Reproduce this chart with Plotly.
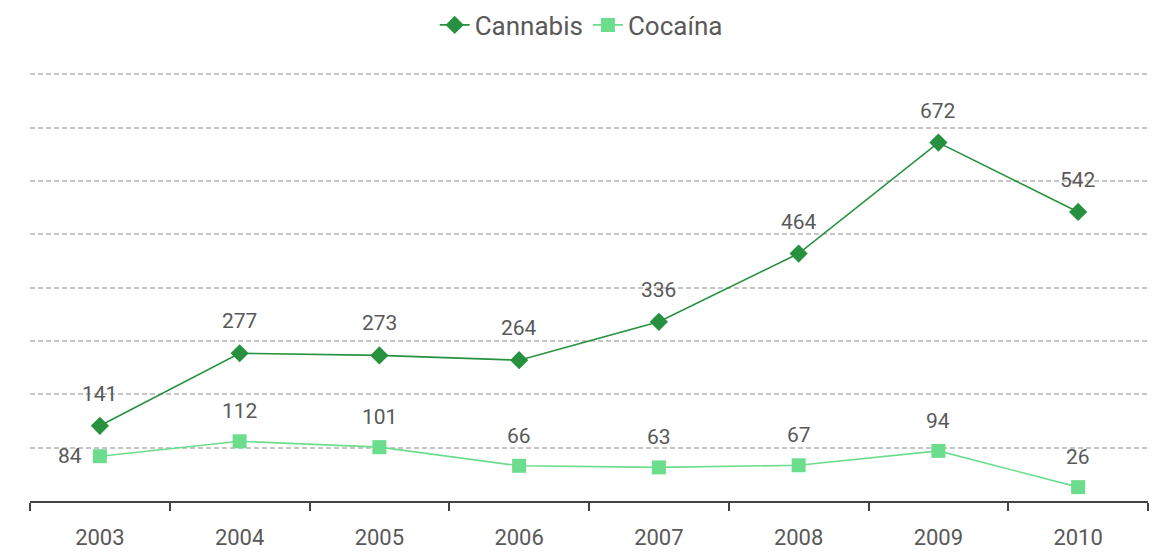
import plotly.graph_objects as go

years = ["2003", "2004", "2005", "2006", "2007", "2008", "2009", "2010"]
cannabis = [141, 277, 273, 264, 336, 464, 672, 542]
cocaina = [84, 112, 101, 66, 63, 67, 94, 26]

c_dark = "#27913f"
c_light = "#6cdc8d"
txt = "#595959"
font_family = "Roboto, 'DejaVu Sans', sans-serif"

fig = go.Figure()
fig.add_trace(go.Scatter(
    x=years, y=cannabis, name="Cannabis", mode="lines+markers",
    line=dict(color=c_dark, width=1.6),
    marker=dict(symbol="diamond", size=14, color=c_dark),
))
fig.add_trace(go.Scatter(
    x=years, y=cocaina, name="Cocaína", mode="lines+markers",
    line=dict(color=c_light, width=1.6),
    marker=dict(symbol="square", size=14, color=c_light),
))

annotations = []
lab_font = dict(size=21, color=txt, family=font_family)
for i, v in enumerate(cannabis):
    annotations.append(dict(x=i, y=v, text=str(v), showarrow=False,
                            yshift=32, font=lab_font))
for i, v in enumerate(cocaina):
    if i == 0:
        annotations.append(dict(x=i, y=v, text=str(v), showarrow=False,
                                xshift=-30, yshift=0, font=lab_font))
    else:
        annotations.append(dict(x=i, y=v, text=str(v), showarrow=False,
                                yshift=30, font=lab_font))

fig.update_layout(
    width=1151, height=548,
    paper_bgcolor="white", plot_bgcolor="white",
    margin=dict(l=22, r=11, t=61, b=55, autoexpand=False),
    font=dict(family=font_family, color=txt),
    showlegend=True,
    legend=dict(orientation="h", x=0.493, xanchor="center", y=0.969, yref="container",
                yanchor="middle", font=dict(size=26, color=txt),
                traceorder="normal"),
    annotations=annotations,
    xaxis=dict(type="category", range=[-0.5, 7.5], tickson="boundaries",
               ticks="outside", ticklen=8, tickwidth=2, tickcolor="#444",
               showline=True, linecolor="#444", linewidth=2,
               showgrid=False, tickfont=dict(size=22, color=txt),
               ticklabelstandoff=16),
    yaxis=dict(range=[0, 810], tickvals=[100, 200, 300, 400, 500, 600, 700, 800],
               showticklabels=False,
               showgrid=True, gridcolor="#c6c6c6", griddash="5px,3px", gridwidth=1.5,
               zeroline=False, showline=False),
)

fig.write_html("out.html")
